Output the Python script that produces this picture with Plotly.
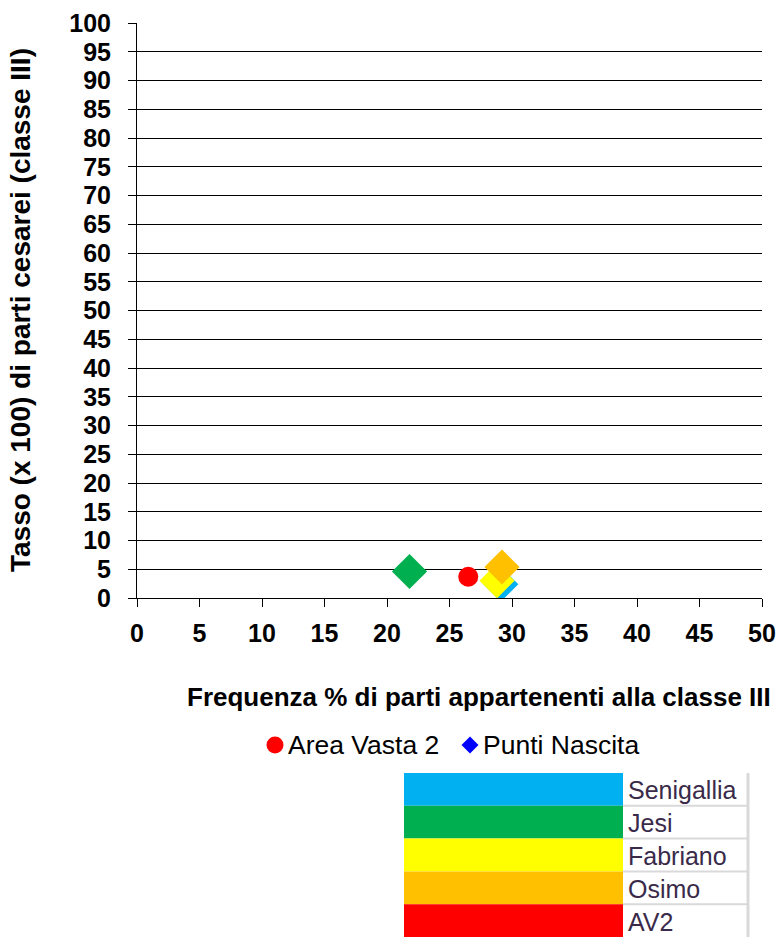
import plotly.graph_objects as go

# Birth points: share of class III deliveries (%) vs caesarean rate (x 100)
punti = ["Senigallia", "Fabriano", "Jesi", "Osimo"]
punti_freq = [29.1, 28.8, 21.8, 29.2]
punti_tasso = [2.4, 3.0, 4.6, 5.4]
punti_colori = ["#00B0F0", "#FFFF00", "#00B050", "#FFC000"]

# Area Vasta 2 overall
av2_freq = [26.5]
av2_tasso = [3.7]

# Legend entries
legend_names = ["Area Vasta 2", "Punti Nascita"]
legend_colors = ["#FF0000", "#0000FF"]

# Colour key table rows (top to bottom)
key_labels = ["Senigallia", "Jesi", "Fabriano", "Osimo", "AV2"]
key_colors = ["#00B0F0", "#00B050", "#FFFF00", "#FFC000", "#FF0000"]

W, H = 779, 937
L, R, T, B = 137, 17, 23, 339
pw, ph = W - L - R, H - T - B

def px_x(X):
    return (X - L) / pw

def px_y(Y):
    return (H - B - Y) / ph

fig = go.Figure()

fig.add_trace(go.Scatter(
    x=punti_freq, y=punti_tasso, mode="markers", showlegend=False,
    marker=dict(symbol="diamond", size=27, color=punti_colori,
                line=dict(width=0)),
    text=punti, hoverinfo="text+x+y"))

fig.add_trace(go.Scatter(
    x=av2_freq, y=av2_tasso, mode="markers", showlegend=False,
    marker=dict(symbol="circle", size=20, color="#FF0000"),
    hoverinfo="x+y"))

font_b = "Liberation Sans, Arial, sans-serif"

fig.update_layout(
    width=W, height=H,
    margin=dict(l=L, r=R, t=T, b=B, autoexpand=False),
    paper_bgcolor="white", plot_bgcolor="white",
    font=dict(family=font_b, color="black"),
    showlegend=False,
    xaxis=dict(range=[0, 50], dtick=5, tick0=0, showgrid=False, zeroline=False,
               showline=True, linecolor="black", linewidth=1,
               ticks="outside", ticklen=8, tickcolor="black",
               ticklabelstandoff=5, automargin=False,
               tickfont=dict(size=25, family=font_b, weight="bold"),
               fixedrange=True),
    yaxis=dict(range=[0, 100], dtick=5, tick0=0, showgrid=True,
               gridcolor="black", gridwidth=1, zeroline=False,
               showline=True, linecolor="black", linewidth=1,
               ticks="outside", ticklen=8, tickcolor="black",
               ticklabelstandoff=12, automargin=False,
               tickfont=dict(size=25, family=font_b, weight="bold"),
               fixedrange=True),
)

annotations = [
    dict(text="Frequenza % di parti appartenenti alla classe III",
         xref="paper", yref="paper", x=px_x(479), y=px_y(697),
         xanchor="center", yanchor="middle", showarrow=False,
         font=dict(size=26, family=font_b, weight="bold")),
    dict(text="Tasso (x 100) di parti cesarei (classe III)",
         xref="paper", yref="paper", x=px_x(20), y=px_y(310),
         xanchor="center", yanchor="middle", showarrow=False, textangle=-90,
         font=dict(size=28, family=font_b, weight="bold")),
]

shapes = []

# legend row: symbol + label
leg_y = 745
leg_cx = [275, 470]
r_c, r_d = 8.5, 8.5
for name, col, cx in zip(legend_names, legend_colors, leg_cx):
    if name == "Area Vasta 2":
        shapes.append(dict(type="circle", xref="paper", yref="paper",
                           x0=px_x(cx - r_c), x1=px_x(cx + r_c),
                           y0=px_y(leg_y + r_c), y1=px_y(leg_y - r_c),
                           fillcolor=col, line=dict(width=0)))
    else:
        path = "M {} {} L {} {} L {} {} L {} {} Z".format(
            px_x(cx), px_y(leg_y - r_d), px_x(cx + r_d), px_y(leg_y),
            px_x(cx), px_y(leg_y + r_d), px_x(cx - r_d), px_y(leg_y))
        shapes.append(dict(type="path", xref="paper", yref="paper", path=path,
                           fillcolor=col, line=dict(width=0)))
    annotations.append(dict(text=name, xref="paper", yref="paper",
                            x=px_x(cx + 11), y=px_y(leg_y),
                            xanchor="left", yanchor="middle", showarrow=False,
                            font=dict(size=26.5, family=font_b)))

# colour key table
row_top, row_h = 773, 32.8
x0, x1, x2 = 404, 623, 748
for i, (lab, col) in enumerate(zip(key_labels, key_colors)):
    y_top = row_top + i * row_h
    y_bot = y_top + row_h
    shapes.append(dict(type="rect", xref="paper", yref="paper",
                       x0=px_x(x0), x1=px_x(x1), y0=px_y(y_bot), y1=px_y(y_top),
                       fillcolor=col, line=dict(width=0), layer="above"))
    if i > 0:
        shapes.append(dict(type="line", xref="paper", yref="paper",
                           x0=px_x(x1), x1=px_x(x2), y0=px_y(y_top), y1=px_y(y_top),
                           line=dict(color="#D9D9DB", width=2)))
    annotations.append(dict(text=lab, xref="paper", yref="paper",
                            x=px_x(x1 + 3), y=px_y(y_top + row_h / 2 + 1),
                            xanchor="left", yanchor="middle", showarrow=False,
                            font=dict(size=25, family=font_b, color="#3A2A4A")))
shapes.append(dict(type="line", xref="paper", yref="paper",
                   x0=px_x(x2), x1=px_x(x2), y0=px_y(H), y1=px_y(row_top),
                   line=dict(color="#D9D9DB", width=3)))

fig.update_layout(annotations=annotations, shapes=shapes)

fig.write_html("out.html")
